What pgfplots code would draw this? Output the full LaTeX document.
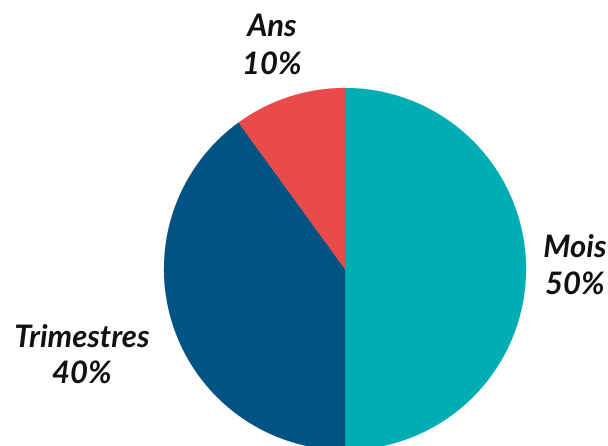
\documentclass[border=0pt]{standalone}
\usepackage{pgfplots}
\pgfplotsset{compat=1.18}
\usepackage{fontspec}
\setmainfont{Lato}
\definecolor{cMois}{HTML}{00ADB2}
\definecolor{cTrim}{HTML}{005383}
\definecolor{cAns}{HTML}{E84B4A}
\definecolor{txt}{HTML}{111111}
% data (percent)
\def\vMois{50}
\def\vTrim{40}
\def\vAns{10}
\def\cx{345}\def\cy{176}\def\rr{181}
\begin{document}
\begin{tikzpicture}
\begin{axis}[
  at={(0,0)}, anchor=south west,
  scale only axis, width=608pt, height=445pt,
  xmin=0, xmax=608, ymin=0, ymax=445,
  hide axis, clip=true,
]
\pgfmathsetmacro{\aA}{90}
\pgfmathsetmacro{\aB}{90-3.6*\vMois}
\pgfmathsetmacro{\aC}{\aB-3.6*\vTrim}
\pgfmathsetmacro{\aD}{\aC-3.6*\vAns}
\addplot[fill=cMois, draw=cMois, line width=0.1pt, domain=\aB:\aA, samples=120, variable=\t]
  ({\cx+\rr*cos(\t)},{\cy+\rr*sin(\t)}) -- (axis cs:\cx,\cy) -- cycle;
\addplot[fill=cTrim, draw=cTrim, line width=0.1pt, domain=\aC:\aB, samples=100, variable=\t]
  ({\cx+\rr*cos(\t)},{\cy+\rr*sin(\t)}) -- (axis cs:\cx,\cy) -- cycle;
\addplot[fill=cAns, draw=cAns, line width=0.1pt, domain=\aD:\aC, samples=40, variable=\t]
  ({\cx+\rr*cos(\t)},{\cy+\rr*sin(\t)}) -- (axis cs:\cx,\cy) -- cycle;
\end{axis}
\begin{scope}[every node/.style={text=txt, font=\fontsize{31}{38}\selectfont\bfseries\itshape, inner sep=0pt, anchor=base}]
\node at (272pt,{445pt-37pt}) {Ans};
\node at (272pt,{445pt-75pt}) {10\%};
\node at (82pt,{445pt-347pt}) {Trimestres};
\node at (82pt,{445pt-383pt}) {40\%};
\node at (575pt,{445pt-258pt}) {Mois};
\node at (575pt,{445pt-295pt}) {50\%};
\end{scope}
\pgfresetboundingbox
\useasboundingbox (0,0) rectangle (608pt,445pt);
\end{tikzpicture}
\end{document}
